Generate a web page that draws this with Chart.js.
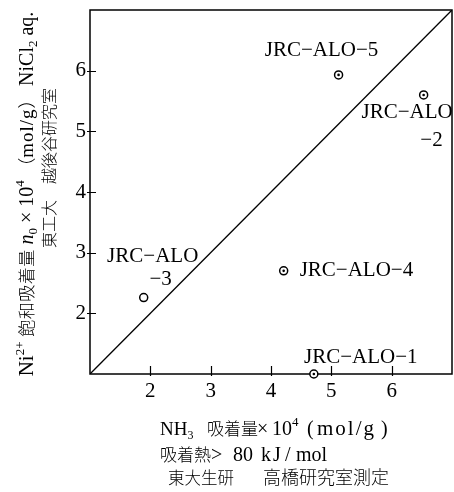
<!DOCTYPE html>
<html>
<head>
<meta charset="utf-8">
<script src="https://cdn.jsdelivr.net/npm/chart.js@4"></script>
<style>
  html, body { margin: 0; padding: 0; background: #fff; }
  #wrap { width: 454px; height: 492px; position: relative; }
</style>
</head>
<body>
<div id="wrap"><canvas id="c" width="454" height="492"></canvas></div>
<script>
// Alumina reference samples: NH3 uptake vs. saturated Ni2+ uptake (both ×10^4 mol/g)
const sampleNames = ['JRC−ALO−1', 'JRC−ALO−2', 'JRC−ALO−3', 'JRC−ALO−4', 'JRC−ALO−5'];
const nh3Uptake   = [4.71, 6.53, 1.89, 4.21, 5.12];
const niUptake    = [1.00, 5.60, 2.26, 2.70, 5.93];
// samples plotted with a centre dot inside the ring
const dottedSamples = ['JRC−ALO−1', 'JRC−ALO−2', 'JRC−ALO−4', 'JRC−ALO−5'];
const tickValues = [2, 3, 4, 5, 6];
const axisMin = 1;
const axisMax = 7;

const SERIF = '"Liberation Serif", "Noto Sans CJK JP"';
const INK = '#000';

// where each sample's label sits relative to its marker (pixels)
const labelLayout = {
  'JRC−ALO−1': { dx: 47, dy: -17, align: 'center', split: false },
  'JRC−ALO−2': { dx: 29, dy: 18, align: 'right', split: true, dx2: 19, dy2: 46 },
  'JRC−ALO−3': { dx: 9, dy: -41, align: 'center', split: true, dx2: 17, dy2: -18 },
  'JRC−ALO−4': { dx: 16, dy: 0, align: 'left', split: false },
  'JRC−ALO−5': { dx: -17, dy: -24, align: 'center', split: false }
};

// a run of text; `at` pins its start to a fixed offset along the line,
// `ls` adds letter spacing
function seg(text, size, opt) {
  opt = opt || {};
  return { text, size, dy: opt.dy || 0, italic: !!opt.italic, at: opt.at, ls: opt.ls || 0 };
}
function fontOf(s) {
  return (s.italic ? 'italic ' : '') + '300 ' + s.size + 'px ' + SERIF;
}
function setRun(ctx, s) {
  ctx.font = fontOf(s);
  ctx.letterSpacing = s.ls + 'px';
}
function richWidth(ctx, segs) {
  let w = 0;
  for (const s of segs) {
    if (s.at !== undefined) w = s.at;
    setRun(ctx, s); w += ctx.measureText(s.text).width;
  }
  ctx.letterSpacing = '0px';
  return w;
}
function drawRich(ctx, segs, x0, y) {
  let x = x0;
  for (const s of segs) {
    if (s.at !== undefined) x = x0 + s.at;
    setRun(ctx, s);
    ctx.fillText(s.text, x, y + s.dy);
    x += ctx.measureText(s.text).width;
  }
  ctx.letterSpacing = '0px';
}

const yTitle1 = [
  seg('Ni', 21), seg('2+', 13, { dy: -9 }), seg(' 飽和吸着量 ', 17, { ls: 0.5 }),
  seg('n', 20, { italic: true }), seg('0', 13, { dy: 4 }),
  seg(' × 10', 20), seg('4', 13, { dy: -9 }), seg(' （', 18), seg('mol/g', 19, { ls: 1 }),
  seg('） ', 18), seg('NiCl', 20), seg('2', 13, { dy: 4 }), seg(' aq.', 20)
];
const yTitle2 = [seg('東工大　越後谷研究室', 16)];
const xTitle1 = [
  seg('NH', 19), seg('3', 12, { dy: 4 }), seg('吸着量', 17, { at: 47 }),
  seg('×', 20, { at: 97 }), seg('10', 20, { at: 112 }), seg('4', 13, { dy: -9 }),
  seg('(', 20, { at: 147 }), seg('mol/g', 21, { at: 157, ls: 2 }), seg(')', 20, { at: 221 })
];
const xTitle2 = [
  seg('吸着熱', 17), seg('>', 20, { at: 51 }), seg('80', 20, { at: 73 }),
  seg('k', 20, { at: 101 }), seg('J', 20, { at: 113 }), seg('/', 20, { at: 125 }),
  seg('mol', 20, { at: 136 })
];
const xTitle3 = [seg('東大生研', 16.5), seg('高橋研究室測定', 18, { at: 95 })];

const decorations = {
  id: 'decorations',
  beforeDatasetsDraw(chart) {
    const { ctx, chartArea: a, scales } = chart;
    ctx.save();
    ctx.strokeStyle = INK;
    ctx.lineWidth = 1.5;
    ctx.strokeRect(a.left, a.top, a.right - a.left, a.bottom - a.top);
    // tick marks, mostly on the inner side of each axis
    ctx.lineWidth = 1.2;
    ctx.beginPath();
    for (const v of tickValues) {
      const px = Math.round(scales.x.getPixelForValue(v)) + 0.5;
      ctx.moveTo(px, a.bottom + 2); ctx.lineTo(px, a.bottom - 8);
      const py = Math.round(scales.y.getPixelForValue(v)) + 0.5;
      ctx.moveTo(a.left - 3, py); ctx.lineTo(a.left + 6, py);
    }
    ctx.stroke();
    ctx.restore();
  },
  afterDraw(chart) {
    const { ctx, scales } = chart;
    ctx.save();
    ctx.fillStyle = INK;
    ctx.textBaseline = 'alphabetic';
    ctx.textAlign = 'left';

    // x-axis title block
    drawRich(ctx, xTitle1, 160, 435);
    drawRich(ctx, xTitle2, 160, 461);
    drawRich(ctx, xTitle3, 168, 484);

    // y-axis title, rotated, reading bottom to top
    const w1 = richWidth(ctx, yTitle1);
    ctx.save();
    ctx.translate(33, 194);
    ctx.rotate(-Math.PI / 2);
    drawRich(ctx, yTitle1, -w1 / 2, 0);
    ctx.restore();
    const w2 = richWidth(ctx, yTitle2);
    ctx.save();
    ctx.translate(55, 168);
    ctx.rotate(-Math.PI / 2);
    drawRich(ctx, yTitle2, -w2 / 2, 0);
    ctx.restore();

    // sample labels
    ctx.font = '21px "Liberation Serif"';
    ctx.textBaseline = 'middle';
    sampleNames.forEach((name, i) => {
      const L = labelLayout[name];
      const px = scales.x.getPixelForValue(nh3Uptake[i]);
      const py = scales.y.getPixelForValue(niUptake[i]);
      ctx.textAlign = L.align;
      if (L.split) {
        const cut = name.lastIndexOf('−');
        ctx.fillText(name.slice(0, cut), px + L.dx, py + L.dy);
        ctx.fillText(name.slice(cut), px + L.dx2, py + L.dy2);
      } else {
        ctx.fillText(name, px + L.dx, py + L.dy);
      }
    });
    ctx.restore();
  }
};

const points = sampleNames.map((n, i) => ({ x: nh3Uptake[i], y: niUptake[i] }));
const keepTicks = scale => {
  scale.ticks = tickValues.map(v => ({ value: v }));
};

new Chart(document.getElementById('c'), {
  type: 'scatter',
  data: {
    datasets: [
      {
        // centre dots
        data: points,
        pointRadius: ctx => dottedSamples.includes(sampleNames[ctx.dataIndex]) ? 1.3 : 0,
        pointBackgroundColor: INK,
        pointBorderWidth: 0,
        clip: false,
        order: 1
      },
      {
        // open rings
        data: points,
        pointRadius: 4,
        pointBorderWidth: 1.5,
        pointBorderColor: INK,
        pointBackgroundColor: '#fff',
        clip: false,
        order: 2
      },
      {
        // 1:1 reference line
        data: [{ x: axisMin, y: axisMin }, { x: axisMax, y: axisMax }],
        showLine: true,
        borderColor: INK,
        borderWidth: 1.3,
        pointRadius: 0,
        order: 3
      }
    ]
  },
  options: {
    responsive: false,
    animation: false,
    events: [],
    layout: { autoPadding: false, padding: { top: 10, right: 2, left: 0, bottom: 0 } },
    plugins: { legend: { display: false }, tooltip: { enabled: false } },
    scales: {
      x: {
        type: 'linear', min: axisMin, max: axisMax,
        grid: { display: false, drawTicks: false },
        border: { display: false },
        afterBuildTicks: keepTicks,
        ticks: {
          padding: 5, color: INK,
          font: { family: '"Liberation Serif"', size: 21 }
        },
        afterFit: s => { s.height = 118; s.paddingLeft = 0; s.paddingRight = 0; }
      },
      y: {
        type: 'linear', min: axisMin, max: axisMax,
        grid: { display: false, drawTicks: false },
        border: { display: false },
        afterBuildTicks: keepTicks,
        ticks: {
          padding: 4, color: INK,
          font: { family: '"Liberation Serif"', size: 21 }
        },
        afterFit: s => { s.width = 90; s.paddingTop = 0; s.paddingBottom = 0; }
      }
    }
  },
  plugins: [decorations]
});
</script>
</body>
</html>
